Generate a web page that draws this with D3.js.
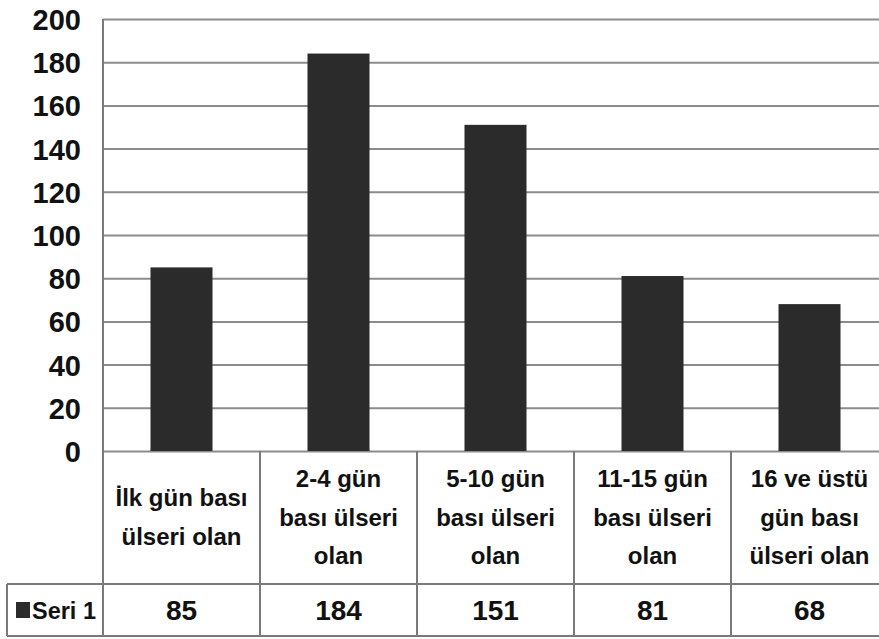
<!DOCTYPE html>
<html>
<head>
<meta charset="utf-8">
<script src="https://cdn.jsdelivr.net/npm/d3@7"></script>
<style>
  html, body { margin: 0; padding: 0; background: #fff; }
  svg { display: block; }
  text { font-family: "Liberation Sans", Arial, Helvetica, sans-serif; font-weight: bold; fill: #111; }
</style>
</head>
<body>
<svg id="chart" width="879" height="639"></svg>
<script>
const categories = [
  "İlk gün bası ülseri olan",
  "2-4 gün bası ülseri olan",
  "5-10 gün bası ülseri olan",
  "11-15 gün bası ülseri olan",
  "16 ve üstü gün bası ülseri olan"
];
const categoryLines = [
  ["İlk gün bası", "ülseri olan"],
  ["2-4 gün", "bası ülseri", "olan"],
  ["5-10 gün", "bası ülseri", "olan"],
  ["11-15 gün", "bası ülseri", "olan"],
  ["16 ve üstü", "gün bası", "ülseri olan"]
];
const seriesName = "Seri 1";
const values = [85, 184, 151, 81, 68];
const yTicks = [0, 20, 40, 60, 80, 100, 120, 140, 160, 180, 200];

(function () {
const svg = d3.select("#chart");
const plotLeft = 103, plotTop = 19, plotBottom = 451, cellW = 157;
const plotRight = plotLeft + cellW * categories.length;
const tableMid = 584, tableBottom = 636, legendLeft = 7;
const gridColor = "#8c8c8c";

const x = d3.scaleBand().domain(categories).range([plotLeft, plotRight]).padding(0);
const y = d3.scaleLinear().domain([0, 200]).range([plotBottom, plotTop]);

// Y axis with gridlines
const yAxis = d3.axisLeft(y).tickValues(yTicks).tickFormat(d3.format("d"))
  .tickSizeInner(-(plotRight - plotLeft)).tickSizeOuter(0).tickPadding(22);
const gy = svg.append("g").attr("transform", `translate(${plotLeft},0)`).call(yAxis);
gy.select(".domain").remove();
gy.selectAll(".tick line").attr("stroke", gridColor).attr("stroke-width", 2);
gy.selectAll(".tick text").attr("font-size", 29).attr("font-family", "'Liberation Sans', Arial, sans-serif")
  .attr("font-weight", "bold").attr("fill", "#111").attr("dy", "0.36em");

// Bars
const barW = x.bandwidth() * 0.395;
svg.append("g").selectAll("rect").data(values).join("rect")
  .attr("x", (d, i) => x(categories[i]) + (x.bandwidth() - barW) / 2)
  .attr("y", d => y(d))
  .attr("width", barW)
  .attr("height", d => y(0) - y(d))
  .attr("fill", "#2b2b2b");

// Table lines
const lines = svg.append("g").attr("stroke", "#7a7a7a").attr("stroke-width", 2);
lines.append("line").attr("x1", plotLeft).attr("x2", plotLeft).attr("y1", plotTop).attr("y2", tableBottom);
categories.forEach((c, i) => {
  if (i === 0) return;
  lines.append("line").attr("x1", x(c)).attr("x2", x(c)).attr("y1", plotBottom).attr("y2", tableBottom);
});
lines.append("line").attr("x1", plotRight).attr("x2", plotRight).attr("y1", plotBottom).attr("y2", tableBottom);
lines.append("line").attr("x1", legendLeft).attr("x2", plotRight).attr("y1", tableMid).attr("y2", tableMid);
lines.append("line").attr("x1", legendLeft).attr("x2", plotRight).attr("y1", tableBottom).attr("y2", tableBottom);
lines.append("line").attr("x1", legendLeft).attr("x2", legendLeft).attr("y1", tableMid).attr("y2", tableBottom);

// Category labels
const lineH = 38.5;
const labelCenter = (plotBottom + tableMid) / 2;
categories.forEach((c, i) => {
  const ls = categoryLines[i];
  const cx = x(c) + x.bandwidth() / 2;
  const firstBaseline = labelCenter - (ls.length - 1) * lineH / 2 + 8;
  const t = svg.append("text").attr("text-anchor", "middle").attr("font-size", 24);
  ls.forEach((s, j) => {
    t.append("tspan").attr("x", cx).attr("y", firstBaseline + j * lineH).text(s);
  });
});

// Values row
const rowCenter = (tableMid + tableBottom) / 2;
svg.append("g").selectAll("text").data(values).join("text")
  .attr("x", (d, i) => x(categories[i]) + x.bandwidth() / 2)
  .attr("y", rowCenter + 10)
  .attr("text-anchor", "middle")
  .attr("font-size", 28)
  .text(d => d);

// Legend cell
svg.append("rect").attr("x", 16).attr("y", rowCenter - 8).attr("width", 14).attr("height", 16).attr("fill", "#2b2b2b");
svg.append("text").attr("x", 32).attr("y", rowCenter + 9).attr("font-size", 24)
  .attr("textLength", 64).attr("lengthAdjust", "spacingAndGlyphs").text(seriesName);
})();
</script>
</body>
</html>
